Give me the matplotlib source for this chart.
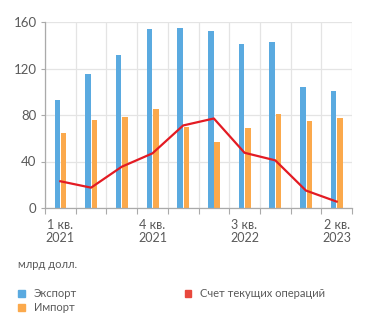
import matplotlib
matplotlib.use("Agg")
import matplotlib.pyplot as plt
from matplotlib.patches import Patch
import numpy as np

plt.rcParams['font.family'] = ['Lato', 'DejaVu Sans']

# data (млрд долл.)
quarters = ["1 кв.\n2021", "2 кв.\n2021", "3 кв.\n2021", "4 кв.\n2021", "1 кв.\n2022",
            "2 кв.\n2022", "3 кв.\n2022", "4 кв.\n2022", "1 кв.\n2023", "2 кв.\n2023"]
export = [93, 115, 132, 154, 154.5, 152, 141.5, 143, 104.5, 101]
imports = [64.5, 76, 78, 85.5, 70, 57, 69, 81, 74.5, 77]
current_account = [23, 17.5, 35.5, 47, 71, 77, 47.5, 41, 15, 5.5]
shown_ticks = [0, 3, 6, 9]

blue = "#5aaae0"
orange = "#fba94c"
red = "#e31b23"
grey_txt = "#5a5a5a"

fig = plt.figure(figsize=(3.71, 3.28), dpi=100)
ax = fig.add_axes([45/371, 1 - 208/328, (352-45)/371, (208-22)/328])

x = np.arange(len(quarters))
w = 0.18
ax.bar(x - 0.1, export, width=w, color=blue, zorder=2)
ax.bar(x + 0.11, imports, width=w, color=orange, zorder=2)
ax.plot(x, current_account, color=red, lw=1.6, zorder=3)

ax.set_xlim(-0.5, len(quarters) - 0.5)
ax.set_ylim(0, 160)
ax.set_yticks([0, 40, 80, 120, 160])
ax.set_xticks(shown_ticks)
ax.set_xticklabels([quarters[i] for i in shown_ticks], linespacing=1.05)
ax.set_xticks(np.arange(-0.5, len(quarters)), minor=True)

ax.grid(axis='y', color="#e4e4e4", lw=0.9, zorder=0)
ax.grid(axis='x', which='minor', color="#e4e4e4", lw=0.9, zorder=0)
ax.tick_params(axis='x', which='major', length=0, pad=8, labelsize=9, colors=grey_txt)
ax.tick_params(axis='x', which='minor', length=4, color="#aaaaaa", width=0.8)
ax.tick_params(axis='y', length=3, color="#aaaaaa", width=0.8, labelsize=9.5,
               colors=grey_txt, pad=3)
for lbl in ax.get_yticklabels():
    lbl.set_color(grey_txt)

for s in ['top', 'right']:
    ax.spines[s].set_visible(False)
ax.spines['left'].set_color("#aaaaaa")
ax.spines['bottom'].set_color("#aaaaaa")
ax.spines['left'].set_linewidth(0.9)
ax.spines['bottom'].set_linewidth(0.9)

fig.text(18/371, 1 - 265/328, "млрд долл.", fontsize=8, color=grey_txt, va='center')

handles = [Patch(color=blue, label="Экспорт"),
           Patch(color=orange, label="Импорт"),
           Patch(color="#e8483d", label="Счет текущих операций")]
fig.legend(handles=handles, ncol=2, loc='upper left',
           bbox_to_anchor=(18/371, 1 - 288/328), frameon=False, fontsize=8,
           borderaxespad=0, borderpad=0,
           handlelength=0.6, handleheight=0.6, handletextpad=0.8,
           columnspacing=9.7, labelspacing=0.3, labelcolor=grey_txt)

fig.savefig("out.png", dpi=100)
